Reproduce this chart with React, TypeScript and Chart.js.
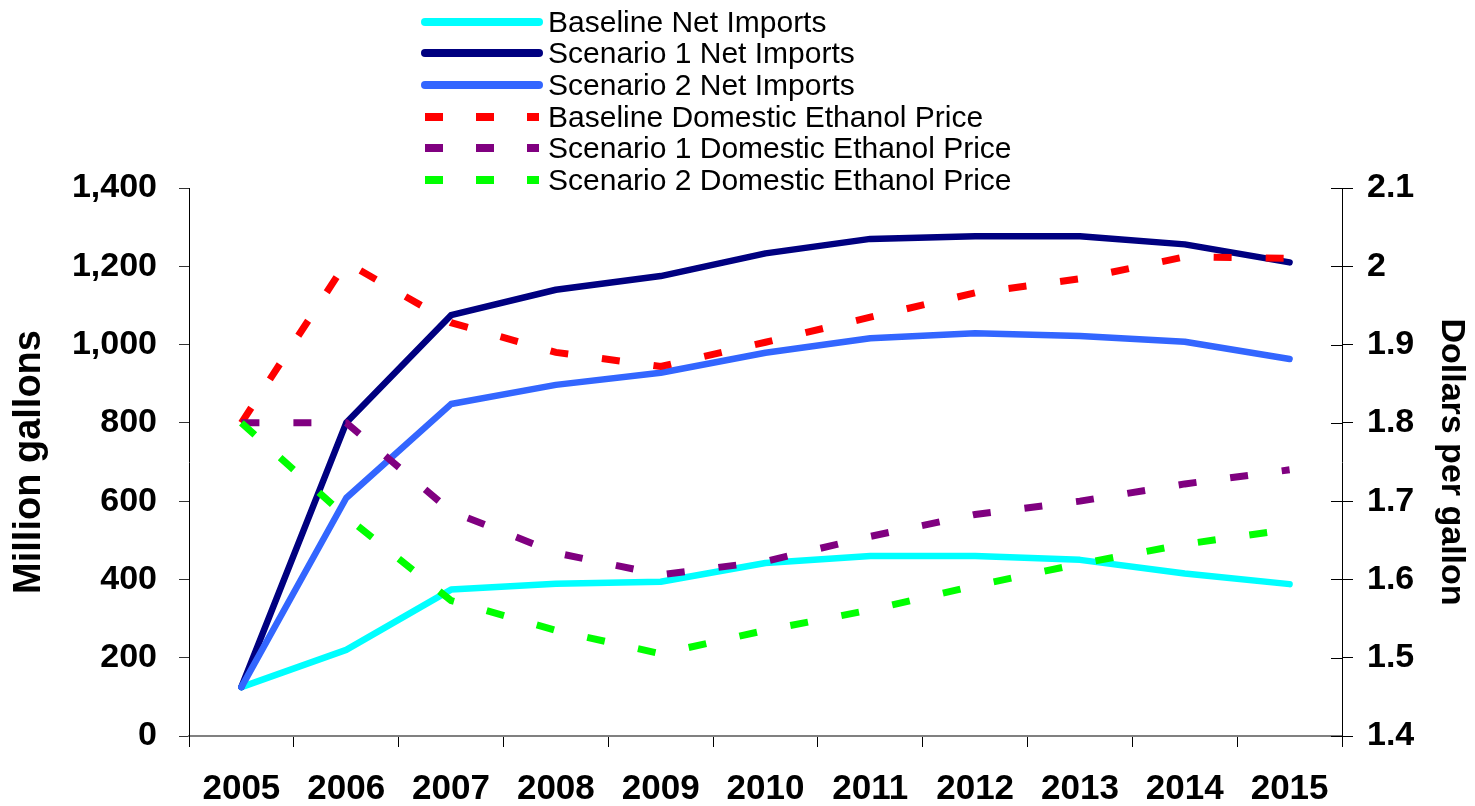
import React, { useEffect, useRef } from 'react';
import { Chart, registerables } from 'chart.js';

Chart.register(...registerables);

// ---- Data ----
const years = ['2005', '2006', '2007', '2008', '2009', '2010', '2011', '2012', '2013', '2014', '2015'];

// Million gallons (left axis)
const baselineNetImports = [125, 220, 374, 389, 394, 442, 460, 460, 450, 415, 388];
const scenario1NetImports = [125, 800, 1075, 1140, 1175, 1233, 1270, 1277, 1277, 1256, 1210];
const scenario2NetImports = [125, 608, 848, 897, 928, 979, 1016, 1029, 1022, 1007, 963];

// Dollars per gallon (right axis)
const baselinePrice = [1.8, 2.005, 1.928, 1.89, 1.872, 1.903, 1.935, 1.966, 1.984, 2.012, 2.01];
const scenario1Price = [1.8, 1.8, 1.687, 1.634, 1.606, 1.623, 1.655, 1.683, 1.7, 1.722, 1.74];
const scenario2Price = [1.8, 1.68, 1.573, 1.535, 1.505, 1.535, 1.561, 1.592, 1.62, 1.645, 1.664];

const seriesLabels = [
  'Baseline Net Imports',
  'Scenario 1 Net Imports',
  'Scenario 2 Net Imports',
  'Baseline Domestic Ethanol Price',
  'Scenario 1 Domestic Ethanol Price',
  'Scenario 2 Domestic Ethanol Price',
];
const seriesColors = ['#00FFFF', '#000080', '#3366FF', '#FF0000', '#800080', '#00FF00'];
const seriesDashed = [false, false, false, true, true, true];

const leftTicks = { min: 0, max: 1400, step: 200 };
const rightTicks = { min: 1.4, max: 2.1, step: 0.1 };

const FONT = '"Liberation Sans", Arial, Helvetica, sans-serif';

const innerRightTicks = {
  id: 'innerRightTicks',
  beforeDatasetsDraw(chart: any) {
    const s = chart.scales.y1;
    const ctx = chart.ctx;
    ctx.save();
    ctx.strokeStyle = '#000';
    ctx.lineWidth = 1;
    s.ticks.forEach((_t: any, i: number) => {
      const y = Math.round(s.getPixelForTick(i)) + 0.5;
      ctx.beginPath();
      ctx.moveTo(s.left - 11, y);
      ctx.lineTo(s.left, y);
      ctx.stroke();
    });
    ctx.restore();
  },
};

function Legend() {
  return (
    <>
      {seriesLabels.map((label, i) => {
        const cy = 21.5 + 31.7 * i;
        const dashed = seriesDashed[i];
        return (
          <div
            key={label}
            style={{
              position: 'absolute',
              left: 417,
              top: cy - 16,
              height: 32,
              display: 'flex',
              alignItems: 'center',
              whiteSpace: 'nowrap',
            }}
          >
            <svg width={131} height={32} style={{ display: 'block' }}>
              <line
                x1={8}
                y1={16}
                x2={122}
                y2={16}
                stroke={seriesColors[i]}
                strokeWidth={8}
                strokeLinecap={dashed ? 'butt' : 'round'}
                strokeDasharray={dashed ? '18 33' : undefined}
              />
            </svg>
            <span
              style={{
                fontFamily: FONT,
                fontSize: 30,
                lineHeight: '32px',
                color: '#000',
              }}
            >
              {label}
            </span>
          </div>
        );
      })}
    </>
  );
}

export default function App() {
  const canvasRef = useRef<HTMLCanvasElement | null>(null);

  useEffect(() => {
    if (!canvasRef.current) return;
    const leftData = [baselineNetImports, scenario1NetImports, scenario2NetImports];
    const rightData = [baselinePrice, scenario1Price, scenario2Price];

    const datasets = seriesLabels.map((label, i) => {
      const dashed = seriesDashed[i];
      return {
        label,
        data: i < 3 ? leftData[i] : rightData[i - 3],
        yAxisID: i < 3 ? 'y' : 'y1',
        borderColor: seriesColors[i],
        backgroundColor: seriesColors[i],
        borderWidth: dashed ? 7 : 6.5,
        borderDash: dashed ? [18, 34] : [],
        borderCapStyle: dashed ? 'butt' : 'round',
        borderJoinStyle: dashed ? 'miter' : 'round',
        pointRadius: 0,
        pointHoverRadius: 0,
        tension: 0,
        fill: false,
        order: 5 - i,
      };
    });

    const tickFont = { family: FONT, size: 34, weight: 'bold' as const };

    const chart = new Chart(canvasRef.current, {
      type: 'line',
      data: { labels: years, datasets: datasets as any },
      options: {
        animation: false,
        responsive: false,
        locale: 'en-US',
        layout: { padding: { top: 188, left: 0, right: 0, bottom: 0 } },
        plugins: {
          legend: { display: false },
          tooltip: { enabled: false },
        },
        scales: {
          x: {
            type: 'category',
            offset: true,
            grid: {
              offset: true,
              drawOnChartArea: false,
              drawTicks: true,
              tickLength: 11,
              color: '#000',
              lineWidth: 1,
            },
            border: { display: true, color: '#808080', width: 2 },
            ticks: {
              color: '#000',
              font: { family: FONT, size: 35, weight: 'bold' },
              padding: 21,
              maxRotation: 0,
              autoSkip: false,
            },
            afterFit: (s: any) => {
              s.height = 70;
            },
          },
          y: {
            position: 'left',
            min: leftTicks.min,
            max: leftTicks.max,
            ticks: {
              stepSize: leftTicks.step,
              color: '#000',
              font: tickFont,
              padding: 22,
            },
            grid: {
              drawOnChartArea: false,
              drawTicks: true,
              tickLength: 10,
              color: '#333',
            },
            border: { display: true, color: '#000', width: 1 },
            title: {
              display: true,
              text: 'Million gallons',
              color: '#000',
              font: { family: FONT, size: 38, weight: 'bold' },
              padding: { top: 7, bottom: 0 },
            },
            afterFit: (s: any) => {
              s.width = 189;
            },
          },
          y1: {
            position: 'right',
            min: rightTicks.min,
            max: rightTicks.max,
            ticks: {
              stepSize: rightTicks.step,
              color: '#000',
              font: tickFont,
              padding: 14,
              callback: (v: any) => String(Number(Number(v).toFixed(1))),
            },
            grid: {
              drawOnChartArea: false,
              drawTicks: true,
              tickLength: 11,
              color: '#000',
            },
            border: { display: true, color: '#000', width: 1 },
            title: {
              display: true,
              text: 'Dollars per gallon',
              color: '#000',
              font: { family: FONT, size: 34, weight: 'bold' },
              padding: { top: 3, bottom: 0 },
            },
            afterFit: (s: any) => {
              s.width = 133;
            },
          },
        },
      } as any,
      plugins: [innerRightTicks],
    });

    return () => {
      chart.destroy();
    };
  }, []);

  return (
    <div
      style={{
        position: 'absolute',
        left: 0,
        top: 0,
        width: 1475,
        height: 806,
        background: '#fff',
        overflow: 'hidden',
      }}
    >
      <canvas
        ref={canvasRef}
        width={1475}
        height={806}
        style={{ position: 'absolute', left: 0, top: 0, display: 'block' }}
      />
      <Legend />
    </div>
  );
}
